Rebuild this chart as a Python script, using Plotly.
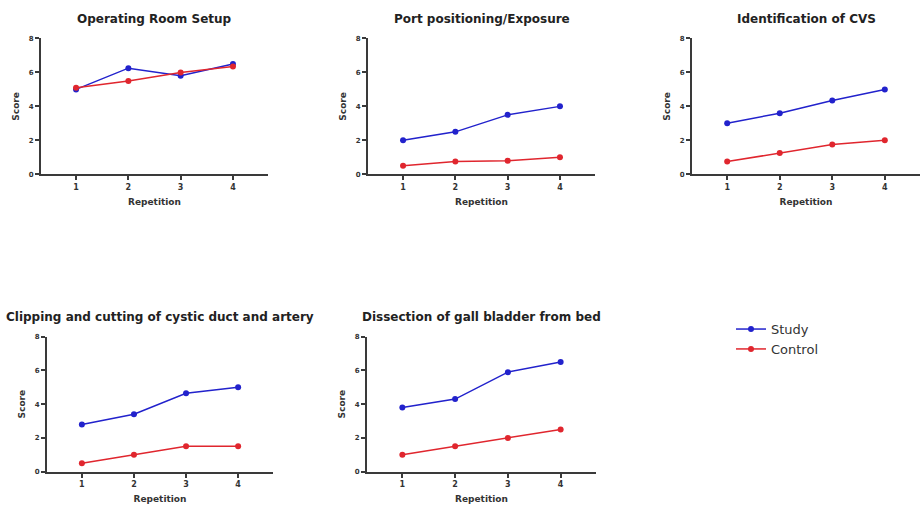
import plotly.graph_objects as go

reps = [1, 2, 3, 4]
titles = [
    "Operating Room Setup",
    "Port positioning/Exposure",
    "Identification of CVS",
    "Clipping and cutting of cystic duct and artery",
    "Dissection of gall bladder from bed",
]
study = [
    [5.0, 6.25, 5.8, 6.5],
    [2.0, 2.5, 3.5, 4.0],
    [3.0, 3.6, 4.35, 5.0],
    [2.8, 3.4, 4.65, 5.0],
    [3.8, 4.3, 5.9, 6.5],
]
control = [
    [5.1, 5.5, 6.0, 6.35],
    [0.5, 0.75, 0.8, 1.0],
    [0.75, 1.25, 1.75, 2.0],
    [0.5, 1.0, 1.5, 1.5],
    [1.0, 1.5, 2.0, 2.5],
]
y_ticks = [0, 2, 4, 6, 8]

W, H = 921, 513
# panel pixel boxes: (x_left, x_right, y_top, y_bottom)
boxes = [
    (41, 268, 35, 173),
    (368, 595, 35, 173),
    (692, 920, 35, 173),
    (47, 273, 338, 475),
    (367, 596, 338, 475),
]

BLUE = "#2222cc"
RED = "#e0262e"
AX = "#3a3a3a"
FONT = "DejaVu Sans"

fig = go.Figure()
layout = {}
annotations = []
for i, (t, s, c, b) in enumerate(zip(titles, study, control, boxes)):
    n = "" if i == 0 else str(i + 1)
    xa, ya = "x" + n, "y" + n
    fig.add_trace(go.Scatter(x=reps, y=s, mode="lines+markers", name="Study",
                             line=dict(color=BLUE, width=1.5),
                             marker=dict(color=BLUE, size=6),
                             xaxis=xa, yaxis=ya, showlegend=(i == 0)))
    fig.add_trace(go.Scatter(x=reps, y=c, mode="lines+markers", name="Control",
                             line=dict(color=RED, width=1.5),
                             marker=dict(color=RED, size=6),
                             xaxis=xa, yaxis=ya, showlegend=(i == 0)))
    x0, x1, y0, y1 = b
    layout["xaxis" + n] = dict(
        domain=[x0 / W, x1 / W], anchor=ya, range=[0.33, 4.67],
        tickvals=reps, ticks="outside", ticklen=4, tickwidth=1.5, tickcolor=AX,
        showline=True, linecolor=AX, linewidth=2, showgrid=False, zeroline=False,
        tickfont=dict(family=FONT, size=8, color="#333", weight="bold"),
        title=dict(text="Repetition", standoff=8,
                   font=dict(family=FONT, size=9, color="#333", weight="bold")),
    )
    layout["yaxis" + n] = dict(
        domain=[1 - y1 / H, 1 - y0 / H], anchor=xa, range=[0, 8],
        tickvals=y_ticks, ticks="outside", ticklen=4, tickwidth=1.5, tickcolor=AX,
        showline=True, linecolor=AX, linewidth=2, showgrid=False, zeroline=False,
        tickfont=dict(family=FONT, size=7, color="#333", weight="bold"),
        title=dict(text="Score", standoff=8,
                   font=dict(family=FONT, size=9, color="#333", weight="bold")),
    )
    annotations.append(dict(
        text=t, xref="paper", yref="paper",
        x=(x0 + x1) / 2 / W, y=1 - (y0 - 20) / H, xanchor="center", yanchor="middle",
        showarrow=False, font=dict(family=FONT, size=12, color="#222", weight="bold"),
    ))

fig.update_layout(
    **layout,
    annotations=annotations,
    width=W, height=H,
    margin=dict(l=0, r=0, t=0, b=0),
    plot_bgcolor="white", paper_bgcolor="white",
    legend=dict(x=731 / W, y=1 - 315 / H, xanchor="left", yanchor="top",
                font=dict(family=FONT, size=13, color="#333"),
                tracegroupgap=0, bgcolor="rgba(0,0,0,0)"),
)

fig.write_html("out.html")
